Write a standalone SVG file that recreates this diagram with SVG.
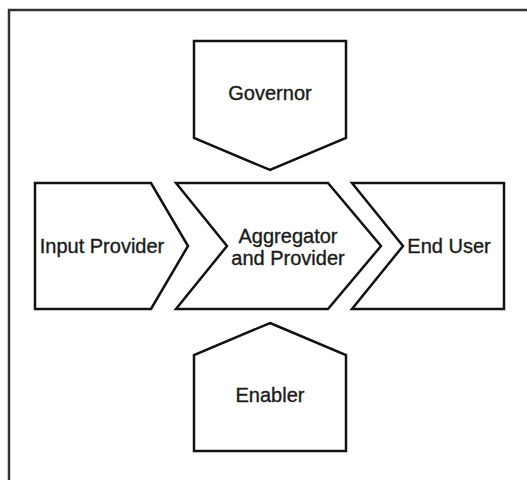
<svg xmlns="http://www.w3.org/2000/svg" width="527" height="480" viewBox="0 0 527 480">
<style>
.shape{fill:#fff;stroke:#111;stroke-width:2.5;stroke-linejoin:miter}
.lbl{font-family:"Liberation Sans",Arial,sans-serif;font-size:20px;fill:#1a1a1a;stroke:#1a1a1a;stroke-width:0.35;text-anchor:middle}
.frame{fill:none;stroke:#333;stroke-width:2.5}
</style>
<rect width="527" height="480" fill="#fff"/>
<path class="frame" d="M9,480 V10 H527"/>
<g id="connectors"></g>
<g id="governor">
<polygon class="shape" points="194,41 346,41 346,138 270,170 194,138"/>
<text class="lbl" x="270" y="100">Governor</text>
</g>
<g id="input-provider">
<polygon class="shape" points="35,183 151,183 188,246 151,309 35,309"/>
<text class="lbl" x="102" y="253">Input Provider</text>
</g>
<g id="aggregator">
<polygon class="shape" points="176,183 328,183 381,246 328,309 176,309 227,246"/>
<text class="lbl" x="288" y="243">Aggregator</text>
<text class="lbl" x="288" y="265">and Provider</text>
</g>
<g id="end-user">
<polygon class="shape" points="352,183 504,183 504,309 352,309 403,246"/>
<text class="lbl" x="449" y="253">End User</text>
</g>
<g id="enabler">
<polygon class="shape" points="270,323 346,355 346,451 194,451 194,355"/>
<text class="lbl" x="270" y="402">Enabler</text>
</g>
</svg>
